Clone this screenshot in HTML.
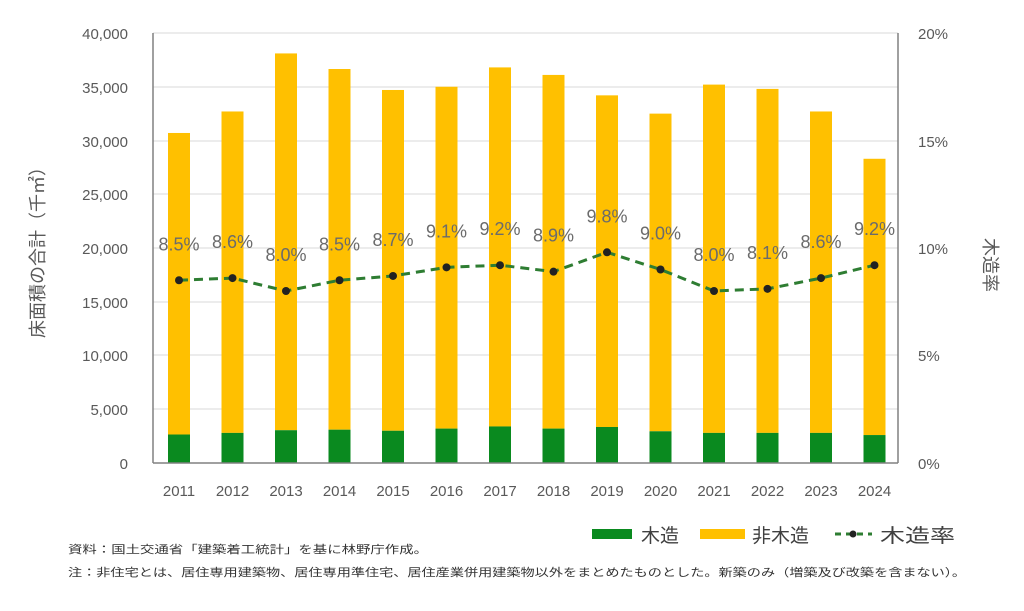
<!DOCTYPE html>
<html><head><meta charset="utf-8"><style>
body{margin:0;background:#fff;}
svg text{font-family:"Liberation Sans","Noto Sans CJK JP",sans-serif;}
</style></head><body>
<svg width="1024" height="606" xmlns="http://www.w3.org/2000/svg">
<g stroke="#d9d9d9" stroke-width="1">
<line x1="153" x2="898" y1="33" y2="33"/><line x1="153" x2="898" y1="87" y2="87"/>
<line x1="153" x2="898" y1="141" y2="141"/><line x1="153" x2="898" y1="194" y2="194"/>
<line x1="153" x2="898" y1="248" y2="248"/><line x1="153" x2="898" y1="302" y2="302"/>
<line x1="153" x2="898" y1="355" y2="355"/><line x1="153" x2="898" y1="409" y2="409"/>
</g>
<g id="bars"></g>
<line x1="153" x2="153" y1="33" y2="463" stroke="#808080" stroke-width="1.5"/>
<line x1="898" x2="898" y1="33" y2="463" stroke="#808080" stroke-width="1.5"/>
<line x1="153" x2="898" y1="463" y2="463" stroke="#808080" stroke-width="1.5"/>
<g font-size="15" fill="#595959" text-anchor="end">
<text x="128" y="39">40,000</text><text x="128" y="93">35,000</text><text x="128" y="147">30,000</text>
<text x="128" y="200">25,000</text><text x="128" y="254">20,000</text><text x="128" y="308">15,000</text>
<text x="128" y="361">10,000</text><text x="128" y="415">5,000</text><text x="128" y="469">0</text>
</g>
<g font-size="15" fill="#595959">
<text x="918" y="39">20%</text><text x="918" y="147">15%</text><text x="918" y="254">10%</text>
<text x="918" y="361">5%</text><text x="918" y="469">0%</text>
</g>
<text transform="translate(44,248) rotate(-90)" font-size="18" fill="#595959" text-anchor="middle">床面積の合計（千㎡）</text>
<text transform="translate(984,265) rotate(90)" font-size="18" fill="#595959" text-anchor="middle">木造率</text>
<g id="xl" font-size="15" fill="#595959" text-anchor="middle"></g>
<g id="line"></g>
<g font-size="19" fill="#404040">
<rect x="592" y="529" width="40" height="10" fill="#0a8a1f"/><text x="641" y="542">木造</text>
<rect x="700" y="529" width="45" height="10" fill="#ffc000"/><text x="752" y="542">非木造</text>
<line x1="835" x2="872" y1="534" y2="534" stroke="#2e7d32" stroke-width="3" stroke-dasharray="6,5"/>
<circle cx="853" cy="534" r="3.5" fill="#222"/><text x="880" y="542" textLength="75" lengthAdjust="spacingAndGlyphs">木造率</text>
</g>
<g font-size="11" fill="#333">
<text x="68" y="553" textLength="360" lengthAdjust="spacingAndGlyphs">資料：国土交通省「建築着工統計」を基に林野庁作成。</text>
<text x="68" y="576" textLength="898" lengthAdjust="spacingAndGlyphs">注：非住宅とは、居住専用建築物、居住専用準住宅、居住産業併用建築物以外をまとめたものとした。新築のみ（増築及び改築を含まない）。</text>
</g>
</svg>
<script>
const tot=[30700,32700,38100,36650,34700,35000,36800,36100,34200,32500,35200,34800,32700,28300];
const wd=[2650,2800,3050,3100,3000,3200,3400,3200,3350,2950,2800,2800,2800,2600];
const rt=[8.5,8.6,8.0,8.5,8.7,9.1,9.2,8.9,9.8,9.0,8.0,8.1,8.6,9.2];
const y=v=>463-v*0.01075, yr=r=>463-r*21.5;
let b="",x="",l="",pts=[];
for(let i=0;i<14;i++){const c=179+i*53.5;
b+=`<rect x="${c-11}" y="${y(tot[i])}" width="22" height="${y(wd[i])-y(tot[i])}" fill="#ffc000"/><rect x="${c-11}" y="${y(wd[i])}" width="22" height="${463-y(wd[i])}" fill="#0a8a1f"/>`;
x+=`<text x="${c}" y="496">${2011+i}</text>`;
pts.push(c+","+yr(rt[i]));
l+=`<text x="${c}" y="${yr(rt[i])-30}" font-size="18" fill="#6b6b6b" text-anchor="middle">${rt[i].toFixed(1)}%</text>`;}
let m="";pts.forEach(p=>{const[a,c]=p.split(",");m+=`<circle cx="${a}" cy="${c}" r="4" fill="#222"/>`});
document.getElementById("bars").innerHTML=b;
document.getElementById("xl").innerHTML=x;
document.getElementById("line").innerHTML=`<polyline points="${pts.join(" ")}" fill="none" stroke="#2e7d32" stroke-width="3" stroke-dasharray="9,6"/>`+m+l;
</script>
</body></html>
